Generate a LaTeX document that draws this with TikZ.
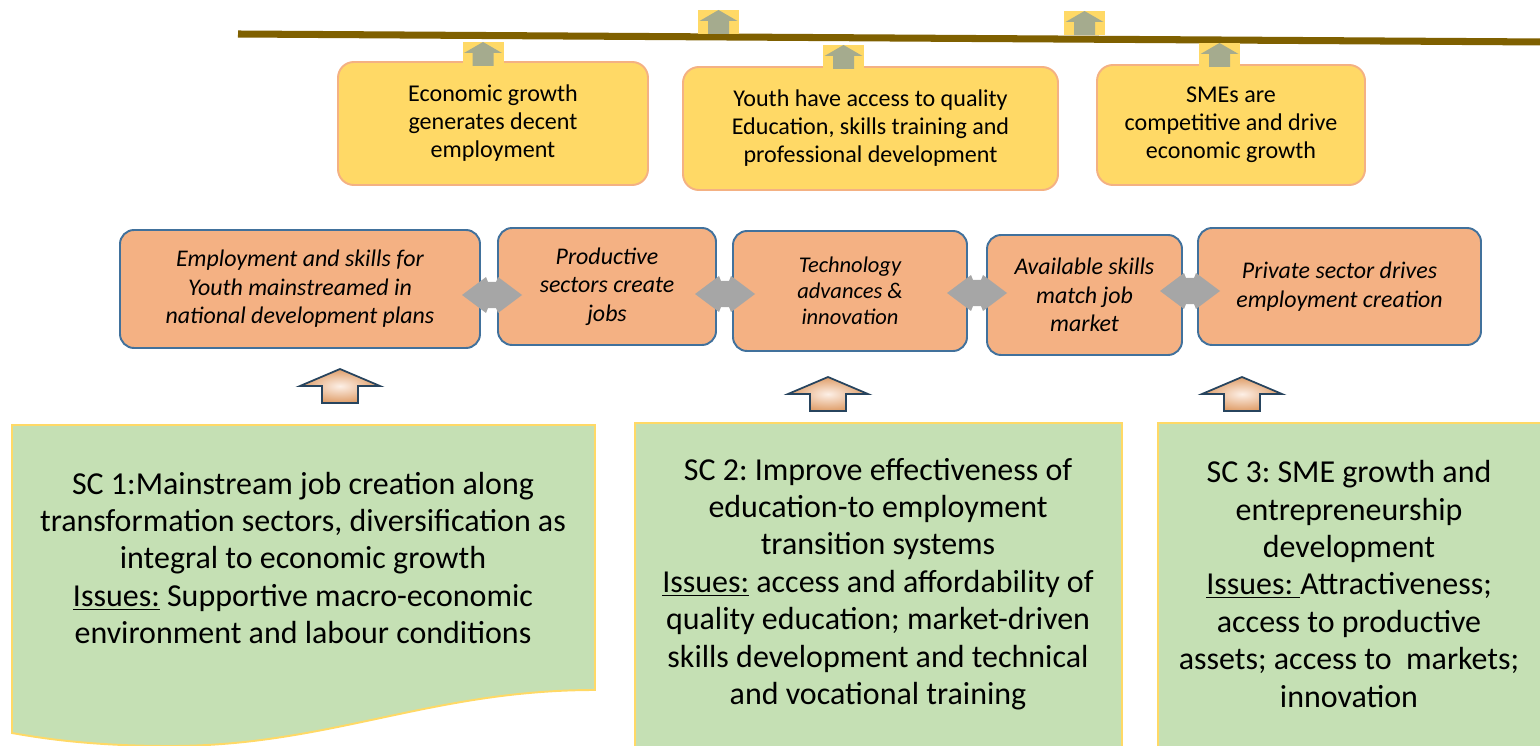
\documentclass[tikz,border=0pt]{standalone}
\usepackage{fontspec}
\setmainfont{Carlito}
\usepackage{xcolor}
\usepackage{tikz}
\frenchspacing

\definecolor{kuning}{HTML}{FFD966}
\definecolor{salem}{HTML}{F4B183}
\definecolor{biru}{HTML}{41719C}
\definecolor{hijau}{HTML}{C5E0B4}
\definecolor{coklat}{HTML}{7F6000}
\definecolor{sage}{HTML}{A5AB8E}
\definecolor{abu}{HTML}{A6A6A6}

\tikzset{
  ukuran/.style 2 args={minimum width=#1*0.02cm, minimum height=#2*0.02cm},
  tujuan/.style={draw=salem, fill=kuning, line width=1.1pt, rounded corners=9pt,
    align=center, inner sep=0pt, font=\fontsize{13.7}{15.9}\selectfont},
  hasil/.style={draw=biru, fill=salem, line width=1.1pt, rounded corners=8pt,
    align=center, inner sep=0pt, font=\fontsize{13.6}{16.2}\selectfont\itshape},
  strategi/.style={draw=kuning, fill=hijau, line width=1.1pt},
  teks/.style={align=center, inner sep=0pt, font=\fontsize{18.2}{21.3}\selectfont},
  garis/.style={draw=coklat, line width=4pt},
  naik/.pic={
    \fill[kuning] (-20.5,-12) rectangle (20.5,12);
    \fill[sage] (0,-12) -- (19,-1) -- (10.5,-1) -- (10.5,12) -- (-10.5,12)
      -- (-10.5,-1) -- (-19,-1) -- cycle;
  },
  tebal/.pic={
    \shade[inner color=white!80!salem, outer color=salem!60!brown, draw=biru!60!black,
      line width=1pt] (0,-17) -- (40,0) -- (18,0) -- (18,17) -- (-18,17)
      -- (-18,0) -- (-40,0) -- cycle;
  },
  dobel/.pic={
    \fill[abu] (-30,0) -- (-6,-18) -- (-4,-13) -- (4,-13) -- (6,-18) -- (30,0)
      -- (6,18) -- (4,13) -- (-4,13) -- (-6,18) -- cycle;
  },
}

\begin{document}
\begin{tikzpicture}[x=0.02cm, y=-0.02cm]
  \clip (0,0) rectangle (1540,746);             % ukuran gambar

  % garis atas
  \coordinate (kiri) at (238,34);
  \coordinate (kanan) at (1545,42);
  \draw [garis] (kiri) -- (kanan);

  % kotak tujuan (kuning)
  \node (ekonomi) [tujuan, ukuran={310}{123}] at (493,123.5)
    {Economic growth\\generates decent\\employment};
  \node (pemuda) [tujuan, ukuran={375}{123}] at (870.5,128.5)
    {Youth have access to quality\\Education, skills training and\\professional development};
  \node (ukm) [tujuan, ukuran={268}{120}] at (1231,125)
    {SMEs are\\competitive and drive\\economic growth};

  % panah kecil
  \pic (p1) at (483,54) {naik};
  \pic (p2) at (718.5,22) {naik};
  \pic (p3) at (843.5,57) {naik};
  \pic (p4) at (1084.5,23) {naik};
  \pic (p5) at (1219.5,55) {naik};

  % kotak hasil (oranye)
  \node (rencana) [hasil, ukuran={360}{118}] at (300,289)
    {Employment and skills for\\Youth mainstreamed in\\national development plans};
  \node (sektor) [hasil, ukuran={218}{117}] at (607,286.5)
    {Productive\\sectors create\\jobs};
  \node (teknologi) [hasil, ukuran={234}{120}, font=\fontsize{12.8}{14.8}\selectfont\itshape] at (850,291)
    {Technology\\advances \&\\innovation};
  \node (keahlian) [hasil, ukuran={195}{120}] at (1084.5,295)
    {Available skills\\match job\\market};
  \node (swasta) [hasil, ukuran={283}{117}] at (1339.5,286.5)
    {Private sector drives\\employment creation};

  % panah dua arah
  \pic (d1) at (492,295) {dobel};
  \pic (d2) at (725,294) {dobel};
  \pic (d3) at (977,293) {dobel};
  \pic (d4) at (1190,291) {dobel};

  % panah tebal
  \pic (t1) at (340,386) {tebal};
  \pic (t2) at (828,394) {tebal};
  \pic (t3) at (1242,394) {tebal};

  % kotak strategi (hijau)
  \draw [strategi] (12,425) -- (595,425) -- (595,690)
    .. controls (430,690) and (330,746) .. (170,746)
    .. controls (90,746) and (40,738) .. (12,733) -- cycle;
  \draw [strategi] (635,423) rectangle (1122,760);
  \draw [strategi] (1158,423) rectangle (1560,760);

  \node (sc1) [teks] at (303,558)
    {SC 1:Mainstream job creation along\\transformation sectors, diversification as\\integral to economic growth\\\underline{Issues:} Supportive macro-economic\\environment and labour conditions};
  \node (sc2) [teks] at (878,584)
    {SC 2: Improve effectiveness of\\education-to employment\\transition systems\\\underline{Issues:} access and affordability of\\quality education; market-driven\\skills development and technical\\and vocational training};
  \node (sc3) [teks] at (1349,584)
    {SC 3: SME growth and\\entrepreneurship\\development\\\underline{Issues: }Attractiveness;\\access to productive\\assets; access to\ \ markets;\\innovation};
\end{tikzpicture}
\end{document}
